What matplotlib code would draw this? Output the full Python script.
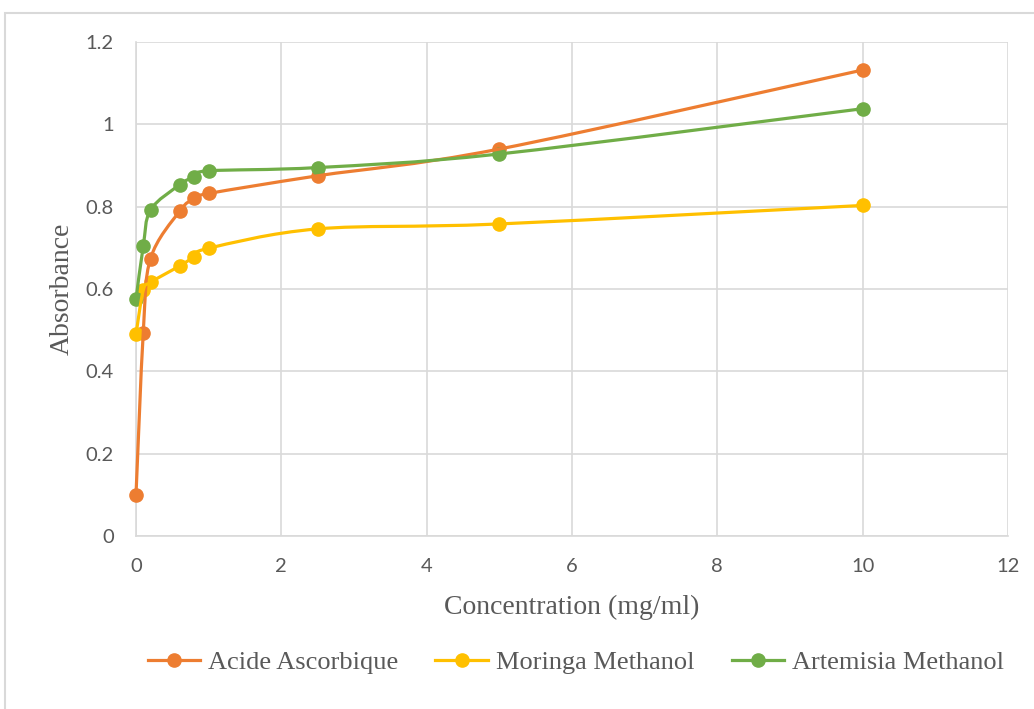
import numpy as np
import matplotlib
matplotlib.use("Agg")
import matplotlib.pyplot as plt
from matplotlib.path import Path
from matplotlib.patches import PathPatch, Rectangle
from matplotlib.lines import Line2D

conc = [0, 0.1, 0.2, 0.6, 0.8, 1, 2.5, 5, 10]
acide = [0.10, 0.494, 0.674, 0.789, 0.820, 0.832, 0.875, 0.940, 1.132]
moringa = [0.490, 0.597, 0.616, 0.656, 0.678, 0.699, 0.746, 0.758, 0.803]
artemisia = [0.575, 0.704, 0.792, 0.853, 0.873, 0.887, 0.895, 0.928, 1.038]

series = [
    ("Acide Ascorbique", acide, "#ed7d31"),
    ("Moringa Methanol", moringa, "#ffc000"),
    ("Artemisia Methanol", artemisia, "#70ad47"),
]


def smooth_path(ax, xs, ys):
    # Bezier spline through the points, like Excel's smoothed line
    pts = ax.transData.transform(np.column_stack([xs, ys]))
    n = len(pts)
    verts = [pts[0]]
    codes = [Path.MOVETO]
    t = 1 / 6
    for i in range(n - 1):
        p0 = pts[i - 1] if i > 0 else pts[i]
        p1 = pts[i]
        p2 = pts[i + 1]
        p3 = pts[i + 2] if i + 2 < n else pts[i + 1]
        c1 = p1 + (p2 - p0) * t
        c2 = p2 - (p3 - p1) * t
        verts += [c1, c2, p2]
        codes += [Path.CURVE4] * 3
    return Path(verts, codes)


fig = plt.figure(figsize=(10.34, 7.09), dpi=100)
ax = fig.add_axes([136 / 1034, 1 - 536 / 709, (1008 - 136) / 1034, (536 - 42) / 709])

ax.set_xlim(0, 12)
ax.set_ylim(0, 1.2)
ax.set_xticks(range(0, 13, 2))
ax.set_yticks([0, 0.2, 0.4, 0.6, 0.8, 1, 1.2])
ax.set_yticklabels(["0", "0.2", "0.4", "0.6", "0.8", "1", "1.2"])
ax.grid(True, color="#d9d9d9", linewidth=1.2)
ax.set_axisbelow(True)
for s in ["top", "right"]:
    ax.spines[s].set_visible(False)
for s in ["left", "bottom"]:
    ax.spines[s].set_color("#d9d9d9")
    ax.spines[s].set_linewidth(1.2)
ax.tick_params(length=0, labelsize=14.5, labelcolor="#595959", pad=16)
for lab in ax.get_xticklabels() + ax.get_yticklabels():
    lab.set_family("Lato")

ax.set_xlabel("Concentration (mg/ml)", family="Liberation Serif", fontsize=20,
              color="#595959", labelpad=14)
ax.set_ylabel("Absorbance", family="Liberation Serif", fontsize=20,
              color="#595959", labelpad=8)

fig.canvas.draw()
handles = []
for name, ys, col in series:
    path = smooth_path(ax, conc, ys)
    patch = PathPatch(path, transform=None, facecolor="none", edgecolor=col,
                      linewidth=2.3, zorder=3, capstyle="round", joinstyle="round")
    fig.add_artist(patch)
    ax.plot(conc, ys, linestyle="none", marker="o", markersize=9.5,
            color=col, zorder=4, clip_on=False)
    handles.append(Line2D([], [], color=col, linewidth=2.3, marker="o",
                          markersize=9.5, label=name))

fig.legend(handles=handles, loc="center", bbox_to_anchor=(0.557, 1 - 662 / 709),
           ncol=3, frameon=False, handlelength=2.0, handletextpad=0.3,
           columnspacing=1.4, prop={"family": "Liberation Serif", "size": 19},
           labelcolor="#595959")

fig.add_artist(Rectangle((5 / 1034, -0.05), 1.1, 1 - 13 / 709 + 0.05,
                         transform=fig.transFigure, fill=False,
                         edgecolor="#d9d9d9", linewidth=1.5))

fig.savefig("out.png", dpi=100)
